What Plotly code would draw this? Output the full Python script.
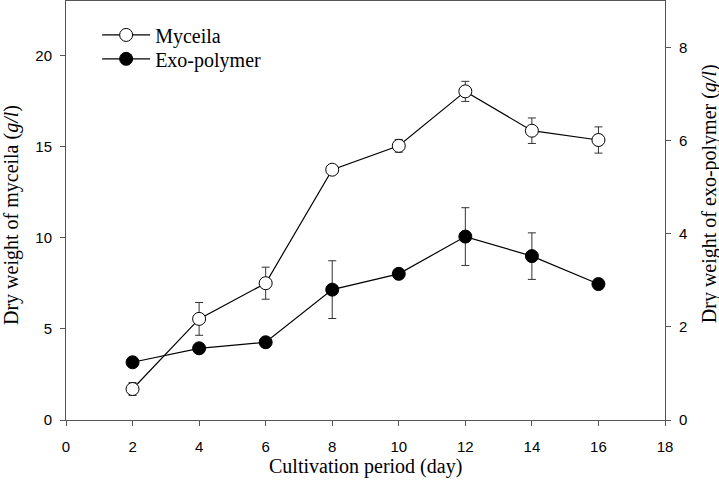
import plotly.graph_objects as go

days = [2, 4, 6, 8, 10, 12, 14, 16]
myceila = [1.70, 5.55, 7.51, 13.74, 15.05, 18.04, 15.88, 15.37]
myceila_err = [0.35, 0.90, 0.88, 0.0, 0.35, 0.55, 0.70, 0.72]
exo = [1.24, 1.54, 1.67, 2.80, 3.14, 3.94, 3.52, 2.92]
exo_err = [0.10, 0.0, 0.0, 0.62, 0.0, 0.62, 0.50, 0.0]

x_ticks = [0, 2, 4, 6, 8, 10, 12, 14, 16, 18]
y1_ticks = [0, 5, 10, 15, 20]
y2_ticks = [0, 2, 4, 6, 8]

serif = "Liberation Serif, Times New Roman, serif"
sans = "Liberation Sans, Arial, sans-serif"
axis_col = "#555555"
title_font = dict(family=serif, size=20, color="black")
tick_font = dict(family=sans, size=15, color="black")
legend_font = dict(family=serif, size=20, color="black")

fig = go.Figure()
fig.add_trace(go.Scatter(
    x=days, y=myceila, name="Myceila", mode="lines+markers",
    line=dict(color="black", width=1.2),
    marker=dict(symbol="circle", size=13, color="white", line=dict(color="black", width=1)),
    error_y=dict(type="data", array=myceila_err, color="#333333", thickness=1, width=4),
    yaxis="y", legend="legend",
))
fig.add_trace(go.Scatter(
    x=days, y=exo, name="Exo-polymer", mode="lines+markers",
    line=dict(color="black", width=1.2),
    marker=dict(symbol="circle", size=13, color="black", line=dict(color="black", width=1)),
    error_y=dict(type="data", array=exo_err, color="#333333", thickness=1, width=4),
    yaxis="y2", legend="legend2",
))

fig.update_layout(
    width=719, height=491,
    margin=dict(l=66, r=54, t=1, b=71, autoexpand=False),
    paper_bgcolor="white", plot_bgcolor="white",
    showlegend=True,
    legend=dict(x=0.052, y=0.919, xanchor="left", yanchor="middle",
                font=legend_font, bgcolor="rgba(0,0,0,0)", itemwidth=48),
    legend2=dict(x=0.052, y=0.862, xanchor="left", yanchor="middle",
                 font=legend_font, bgcolor="rgba(0,0,0,0)", itemwidth=48),
    xaxis=dict(range=[0, 18], tickvals=x_ticks, ticks="outside", ticklen=5,
               tickcolor=axis_col, showline=True, linecolor=axis_col, mirror=True,
               showgrid=False, zeroline=False, automargin=False,
               ticklabelstandoff=8, tickfont=tick_font),
    yaxis=dict(range=[0, 23], tickvals=y1_ticks, ticks="outside", ticklen=5,
               tickcolor=axis_col, showline=True, linecolor=axis_col,
               showgrid=False, zeroline=False, automargin=False,
               ticklabelstandoff=5, tickfont=tick_font),
    yaxis2=dict(range=[0, 9], tickvals=y2_ticks, ticks="outside", ticklen=5,
                tickcolor=axis_col, showline=True, linecolor=axis_col,
                overlaying="y", side="right", anchor="x",
                showgrid=False, zeroline=False, automargin=False,
                ticklabelstandoff=5, tickfont=tick_font),
    annotations=[
        dict(text="Cultivation period (day)", xref="paper", yref="paper",
             x=0.5, y=-0.11, xanchor="center", yanchor="middle",
             showarrow=False, font=title_font),
        dict(text="Dry weight of myceila (<i>g/l</i>)", xref="paper", yref="paper",
             x=-0.092, y=0.489, xanchor="center", yanchor="middle", textangle=-90,
             showarrow=False, font=title_font),
        dict(text="Dry weight of exo-polymer (<i>g/l</i>)", xref="paper", yref="paper",
             x=1.0735, y=0.539, xanchor="center", yanchor="middle", textangle=-90,
             showarrow=False, font=title_font),
    ],
)

fig.write_html("out.html", config={"displayModeBar": False},
               post_script="document.body.style.margin='0';document.body.style.overflow='hidden';")
